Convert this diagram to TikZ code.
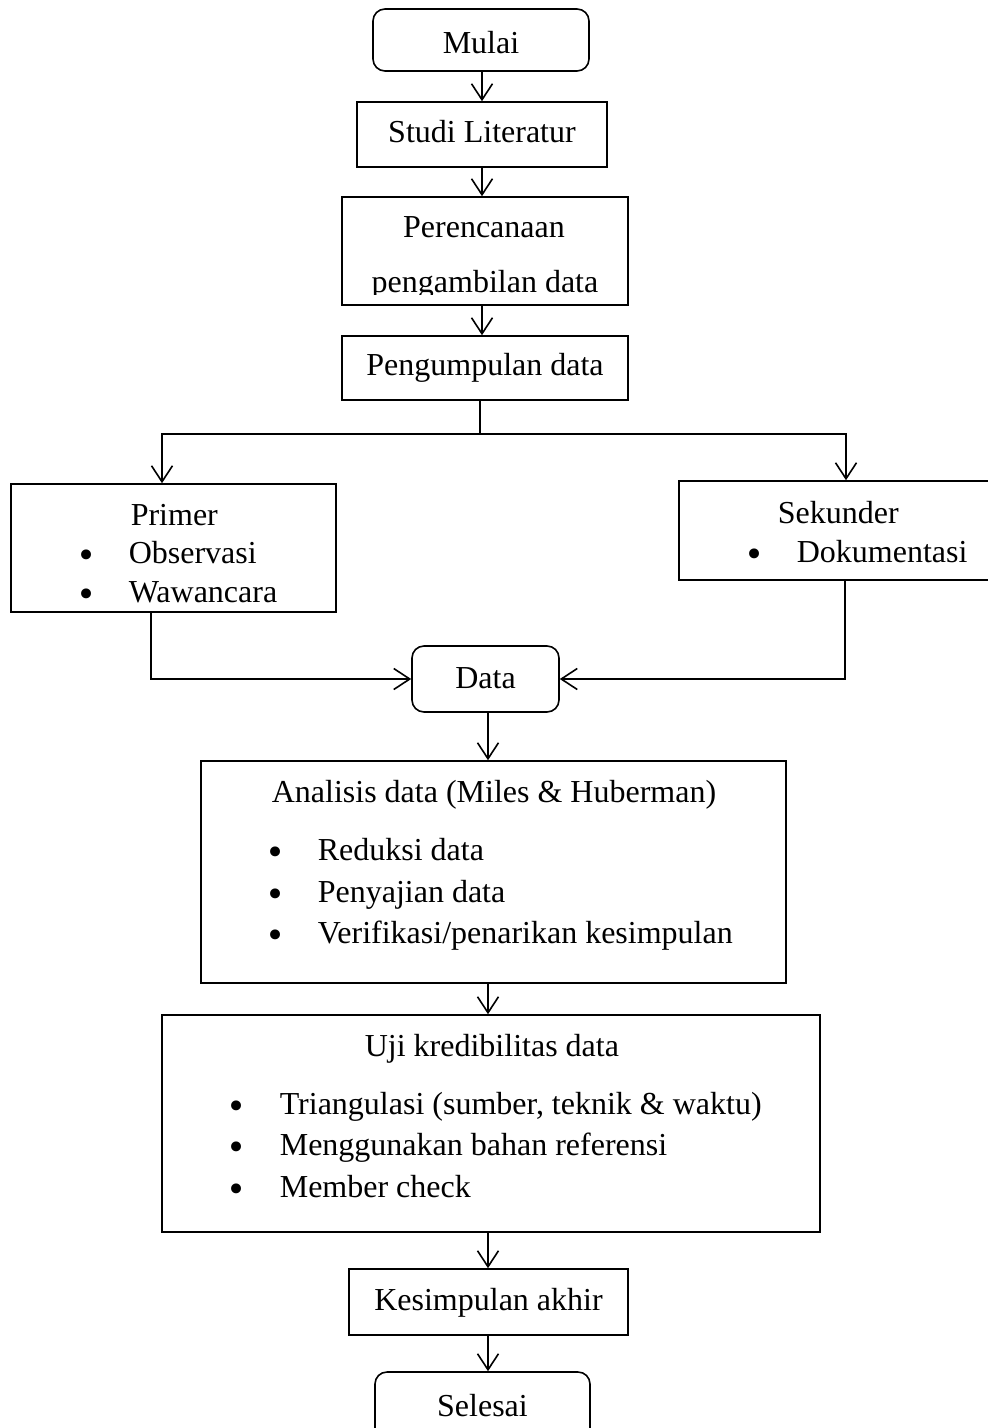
\documentclass[tikz,border=0pt]{standalone}
\usepackage{fontspec}
\setmainfont{Liberation Serif}
\newfontfamily\bulfont{DejaVu Sans}
\usetikzlibrary{arrows.meta}
\begin{document}
\begin{tikzpicture}[x=1pt,y=-1pt,
  line width=1.6pt,
  every node/.style={font=\fontsize{32}{38}\selectfont},
  box/.style={draw, rectangle, inner sep=0pt, line width=1.6pt},
  rbox/.style={box, rounded corners=12pt},
  txt/.style={inner sep=0pt},
  bul/.style={inner sep=0pt, anchor=base, yshift=-4pt, font=\bulfont\fontsize{34}{34}\selectfont},
  arr/.style={-{Straight Barb[length=16pt,width=21pt,line width=1.6pt]}},
]
\useasboundingbox (0,0) rectangle (988,1428);

% top chain
\node[rbox, minimum width=216pt, minimum height=62pt, text height=26pt, text depth=0pt] (mulai) at (481,40) {Mulai};
\node[box, minimum width=250pt, minimum height=65pt, text height=15pt, text depth=0pt] (studi) at (482,134.5) {Studi Literatur};
\node[box, minimum width=286pt, minimum height=108pt] (plan) at (485,251) {};
\begin{scope}
  \clip (342,197) rectangle (628,294);
  \node[txt, anchor=base] (plan1) at (484,237) {Perencanaan};
  \node[txt, anchor=base] (plan2) at (485,292.5) {pengambilan data};
\end{scope}
\node[box, minimum width=286pt, minimum height=64pt, text height=14pt, text depth=0pt] (kumpul) at (485,368) {Pengumpulan data};

\coordinate (split) at (480,434);
\coordinate (sl) at (162,434);
\coordinate (sr) at (846,434);
\coordinate (topaxis) at (482,0);

% primer
\node[box, minimum width=325pt, minimum height=128pt] (primer) at (173.5,548) {};
\node[txt, anchor=base west] (primerT) at (130,525) {Primer};
\node[bul] (pb1) at (87,563) {•};
\node[txt, anchor=base west] (obs) at (128,563) {Observasi};
\node[bul] (pb2) at (87,602) {•};
\node[txt, anchor=base west] (waw) at (128,602) {Wawancara};

% sekunder
\node[box, minimum width=321pt, minimum height=99pt] (sekunder) at (839.5,530.5) {};
\node[txt, anchor=base west] (sekT) at (777,523) {Sekunder};
\node[bul] (sb1) at (755,562) {•};
\node[txt, anchor=base west] (dok) at (796,562) {Dokumentasi};

% data
\node[rbox, minimum width=147pt, minimum height=66pt, text height=18pt, text depth=0pt] (data) at (485.5,679) {Data};

% analisis
\node[box, minimum width=585pt, minimum height=222pt] (ana) at (493.5,872) {};
\node[txt, anchor=base west] (anaT) at (271,802) {Analisis data (Miles \& Huberman)};
\node[bul] (ab1) at (276,860) {•};
\node[txt, anchor=base west] (red) at (317,860) {Reduksi data};
\node[bul] (ab2) at (276,902) {•};
\node[txt, anchor=base west] (pen) at (317,902) {Penyajian data};
\node[bul] (ab3) at (276,943) {•};
\node[txt, anchor=base west] (ver) at (317,943) {Verifikasi/penarikan kesimpulan};

% uji
\node[box, minimum width=658pt, minimum height=217pt] (uji) at (491,1123.5) {};
\node[txt, anchor=base west] (ujiT) at (364,1056) {Uji kredibilitas data};
\node[bul] (ub1) at (237,1114) {•};
\node[txt, anchor=base west] (tri) at (279,1114) {Triangulasi (sumber, teknik \& waktu)};
\node[bul] (ub2) at (237,1155) {•};
\node[txt, anchor=base west] (men) at (279,1155) {Menggunakan bahan referensi};
\node[bul] (ub3) at (237,1197) {•};
\node[txt, anchor=base west] (mem) at (279,1197) {Member check};

% end chain
\node[box, minimum width=279pt, minimum height=66pt, text height=16pt, text depth=0pt] (kes) at (488.5,1302) {Kesimpulan akhir};
\node[rbox, minimum width=215pt, minimum height=68pt, text height=20pt, text depth=0pt] (selesai) at (482.5,1406) {Selesai};

\coordinate (axis) at (488,0);
\coordinate (pA) at (151,0);
\coordinate (pB) at (845,0);

% connectors
\draw[arr] (mulai.south -| topaxis) -- (studi.north -| topaxis);
\draw[arr] (studi.south -| topaxis) -- (plan.north -| topaxis);
\draw[arr] (plan.south -| topaxis) -- (kumpul.north -| topaxis);
\draw[arr] (kumpul.south -| split) -- (split) -| (primer.north -| sl);
\draw[arr] (split) -| (sekunder.north -| sr);
\draw[arr] (primer.south -| pA) |- (data.west);
\draw[arr] (sekunder.south -| pB) |- (data.east);
\draw[arr] (data.south -| axis) -- (ana.north -| axis);
\draw[arr] (ana.south -| axis) -- (uji.north -| axis);
\draw[arr] (uji.south -| axis) -- (kes.north -| axis);
\draw[arr] (kes.south -| axis) -- (selesai.north -| axis);
\end{tikzpicture}
\end{document}
